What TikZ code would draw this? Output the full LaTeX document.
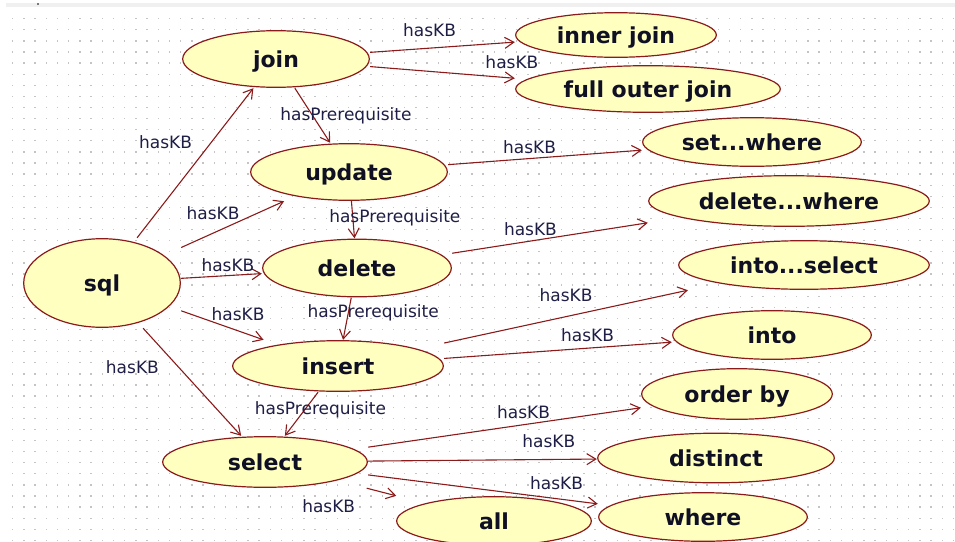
\documentclass[tikz,border=0pt]{standalone}
\usepackage{fontspec}
\setmainfont{DejaVu Sans}
\usetikzlibrary{positioning,calc,arrows.meta}
\definecolor{vinho}{RGB}{139,26,26}
\definecolor{amarelo}{RGB}{255,255,192}
\definecolor{texto}{RGB}{16,16,36}
\definecolor{rotulocor}{RGB}{30,30,70}
\definecolor{ponto}{RGB}{196,196,196}

\begin{document}
\begin{tikzpicture}[
  x=1pt, y=-1pt,
  on grid,
  % caixa retangular (invisivel) com a elipse desenhada dentro
  conceito/.style={rectangle, inner sep=0pt, text=texto,
                   text height=17pt, text depth=0pt,
                   font=\fontsize{22}{26}\selectfont\bfseries,
                   path picture={
                     \draw[vinho, line width=1.2pt, fill=amarelo]
                       let \p1=($(path picture bounding box.north east)-(path picture bounding box.center)$)
                       in (path picture bounding box.center)
                       ellipse [x radius=\x1-0.7pt, y radius=\y1-0.7pt];}},
  rotulo/.style={inner sep=1pt, text=rotulocor, font=\fontsize{17}{20}\selectfont},
  seta/.style={-{Straight Barb[length=9pt,width=11pt]}, draw=vinho, line width=1.1pt},
]
\useasboundingbox (0,0) rectangle (955,541);

% ---- Fundo pontilhado -----------------------------------------------------
\fill[gray!12] (6,3) rectangle (955,7);
\fill (38,4) circle (0.9);
\foreach \i in {0,...,84}
  \foreach \j in {0,...,47}
    \fill[ponto] (12+11.2*\i,18+11.1*\j) rectangle ++(1.3,1.3);

% ---- Comandos -------------------------------------------------------------
\node[conceito, minimum width=158pt, minimum height=90pt] (sql) at (102,283) {sql};
\node[conceito, minimum width=188pt, minimum height=58pt, above right=224pt and 174pt of sql] (join) {join};
\node[conceito, minimum width=198pt, minimum height=58pt, above right=111pt and 247pt of sql] (update) {update};
\node[conceito, minimum width=190pt, minimum height=59pt, above right=15pt and 255pt of sql] (delete) {delete};
\node[conceito, minimum width=212pt, minimum height=52pt, below right=83pt and 236pt of sql] (insert) {insert};
\node[conceito, minimum width=206pt, minimum height=52pt, below right=179pt and 163pt of sql] (select) {select};

% ---- Bases de conhecimento ------------------------------------------------
\node[conceito, minimum width=202pt, minimum height=46pt, above right=24pt and 340pt of join] (innerjoin) {inner join};
\node[conceito, minimum width=266pt, minimum height=48pt, below right=30pt and 372pt of join] (fullouter) {full outer join};
\node[conceito, minimum width=220pt, minimum height=50pt, above right=30pt and 403pt of update] (setwhere) {set...where};
\node[conceito, minimum width=282pt, minimum height=52pt, above right=67pt and 432pt of delete] (delwhere) {delete...where};
\node[conceito, minimum width=252pt, minimum height=50pt, above right=101pt and 466pt of insert] (intoselect) {into...select};
\node[conceito, minimum width=200pt, minimum height=50pt, above right=31pt and 434pt of insert] (into) {into};
\node[conceito, minimum width=192pt, minimum height=52pt, above right=68pt and 472pt of select] (orderby) {order by};
\node[conceito, minimum width=238pt, minimum height=51pt, above right=4pt and 451pt of select] (distinct) {distinct};
\node[conceito, minimum width=210pt, minimum height=50pt, below right=55pt and 438pt of select] (where) {where};
\node[conceito, minimum width=196pt, minimum height=50pt, below right=59pt and 229pt of select] (all) {all};

% ---- Arestas --------------------------------------------------------------
\draw[seta] (sql) -- node[rotulo, pos=0.64, xshift=-46pt] {hasKB} (join);
\draw[seta] (sql) -- node[rotulo, pos=0.31, yshift=20pt] {hasKB} (update);
\draw[seta] (sql) -- node[rotulo, pos=0.58, yshift=10pt] {hasKB} (delete);
\draw[seta] (sql) -- node[rotulo, pos=0.69, yshift=17pt] {hasKB} (insert);
\draw[seta] (sql) -- node[rotulo, pos=0.36, xshift=-46pt] {hasKB} (select);

\draw[seta] (join) -- node[rotulo, pos=0.41, yshift=18pt] {hasKB} (innerjoin);
\draw[seta] (join) -- node[rotulo, pos=0.98, yshift=16pt] {hasKB} (fullouter);
\draw[seta] (join) -- node[rotulo, pos=0.51, xshift=33pt] {hasPrerequisite} (update);

\draw[seta] (update) -- node[rotulo, pos=0.42, yshift=11pt] {hasKB} (setwhere);
\draw[seta] (update) -- node[rotulo, pos=0.45, xshift=42pt] {hasPrerequisite} (delete);

\draw[seta] (delete) -- node[rotulo, pos=0.40, yshift=12pt] {hasKB} (delwhere);
\draw[seta] (delete) -- node[rotulo, pos=0.37, xshift=25pt] {hasPrerequisite} (insert);

\draw[seta] (insert) -- node[rotulo, pos=0.50, yshift=21pt] {hasKB} (intoselect);
\draw[seta] (insert) -- node[rotulo, pos=0.63, yshift=13pt] {hasKB} (into);
\draw[seta] (insert) -- node[rotulo, pos=0.41, xshift=16pt] {hasPrerequisite} (select);

\draw[seta] (select) -- node[rotulo, pos=0.57, yshift=13pt] {hasKB} (orderby);
\draw[seta] (select) -- node[rotulo, pos=0.79, yshift=18pt] {hasKB} (distinct);
\draw[seta] (select) -- node[rotulo, pos=0.82, yshift=15pt] {hasKB} (where);
\draw[seta] (select) -- node[rotulo, pos=0, xshift=-38pt, yshift=-18pt] {hasKB} (all);

\end{tikzpicture}
\end{document}
